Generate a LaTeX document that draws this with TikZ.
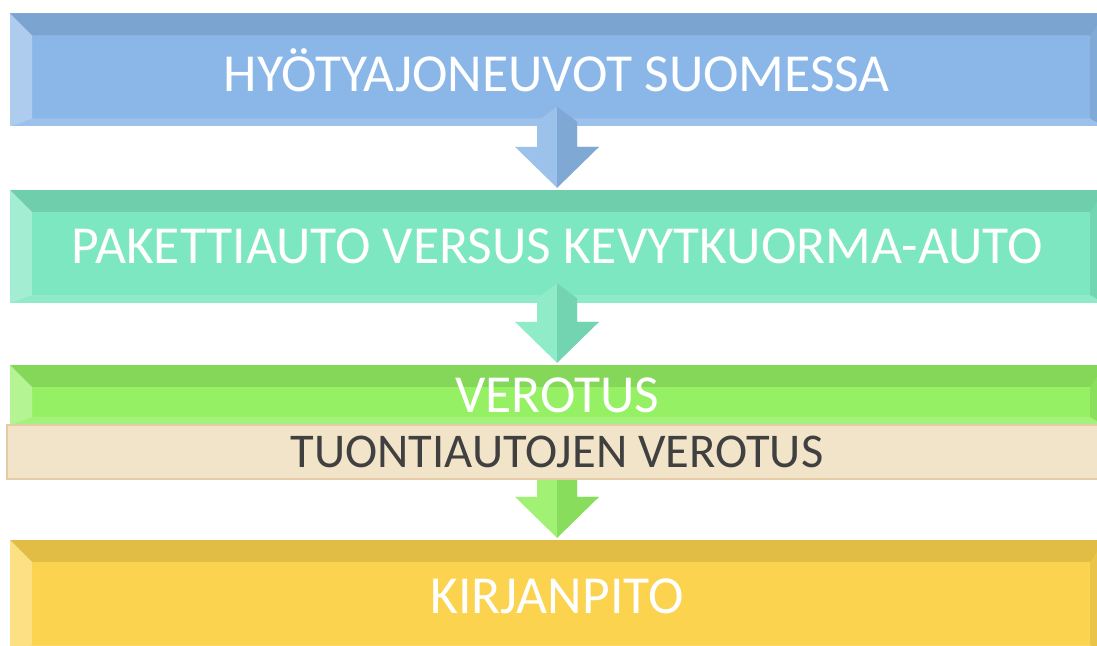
\documentclass[tikz,border=0pt]{standalone}
\usepackage{fontspec}
\setmainfont{Carlito}
\usetikzlibrary{calc,backgrounds}

\definecolor{sininen}{RGB}{139,183,232}
\definecolor{turkoosi}{RGB}{124,231,192}
\definecolor{vihrea}{RGB}{149,240,100}
\definecolor{beige}{RGB}{242,228,200}
\definecolor{keltainen}{RGB}{251,211,78}

\tikzset{
	palkki/.style={minimum width=1094pt, minimum height=113pt, inner sep=0pt, text=white,
		font=\fontsize{53.5}{60}\selectfont,
		path picture={
			\fill[black,opacity=.1] (path picture bounding box.north west) -- (path picture bounding box.north east) -- ++(-14,-22) -- ($(path picture bounding box.north west)+(22,-22)$) -- cycle;
			\fill[white,opacity=.15] (path picture bounding box.south west) -- (path picture bounding box.south east) -- ++(-14,8) -- ($(path picture bounding box.south west)+(22,8)$) -- cycle;
			\fill[white,opacity=.3] (path picture bounding box.south west) -- (path picture bounding box.north west) -- ++(22,-22) -- ($(path picture bounding box.south west)+(22,8)$) -- cycle;
			\fill[black,opacity=.07] (path picture bounding box.south east) -- (path picture bounding box.north east) -- ++(-14,-22) -- ($(path picture bounding box.south east)+(-14,8)$) -- cycle;
		}}
}

% nuoli: lahto, kohde, vaalea, tumma
\newcommand{\nuoli}[4]{
	\coordinate (P) at ($(#1.south)+(0,20)$);
	\coordinate (T) at ($(#2.north)+(0,2)$);
	\fill[#3] (P) -- ++(20,-15) -- ($(T)+(20,41)$) -- ($(T)+(42,41)$) -- (T) -- ($(T)+(-42,41)$) -- ($(T)+(-20,41)$) -- ($(P)+(-20,-15)$) -- cycle;
	\fill[#4] (P) -- ++(20,-15) -- ($(T)+(20,41)$) -- ($(T)+(42,41)$) -- (T) -- cycle;
}

\begin{document}
\begin{tikzpicture}[x=1pt, y=1pt]
				\useasboundingbox (0,0) rectangle (1097,645);
				\node[palkki, fill=sininen] (HY)at(557, 575) {HYÖTYAJONEUVOT SUOMESSA};
				\node[palkki, fill=turkoosi] (PA)at(557, 398.5) {PAKETTIAUTO VERSUS KEVYTKUORMA-AUTO};
				\node[palkki, minimum height=60pt, fill=vihrea] (VE)at(557, 250) {VEROTUS};
				\node[draw=beige!75!brown, line width=1.5pt, fill=beige, minimum width=1100pt, minimum height=54pt, inner sep=0pt, text=black!75, font=\fontsize{48.5}{56}\selectfont] (TU)at(557, 193) {TUONTIAUTOJEN VEROTUS};
				\node[palkki, fill=keltainen] (KI)at(557, 48.5) {KIRJANPITO};
				\nuoli{HY}{PA}{sininen!85!white}{sininen!92!black}
				\nuoli{PA}{VE}{turkoosi!85!white}{turkoosi!92!black}
				\begin{pgfonlayer}{background}
					\nuoli{TU}{KI}{vihrea!90!white}{vihrea!92!black}
				\end{pgfonlayer}
			\end{tikzpicture}
\end{document}
